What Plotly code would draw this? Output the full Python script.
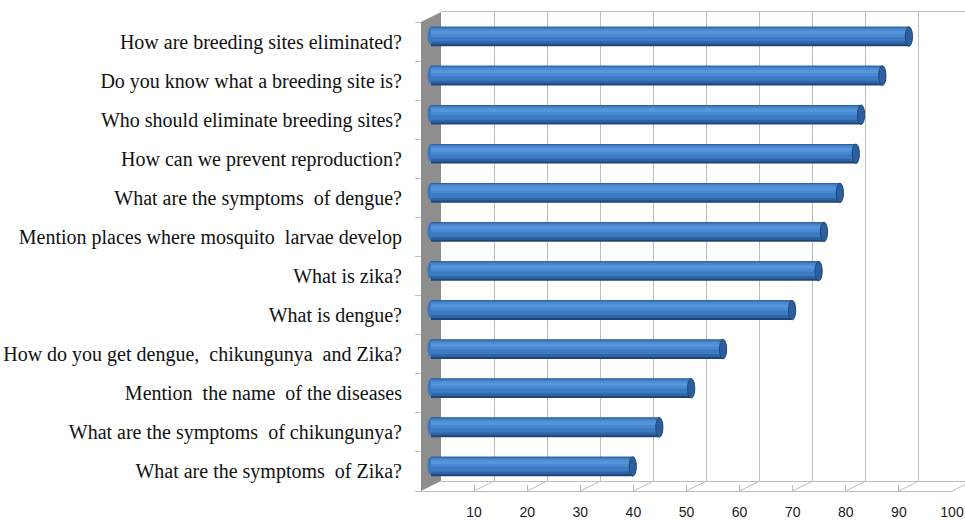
import plotly.graph_objects as go

# ---- data -------------------------------------------------------------
questions = [
    "How are breeding sites eliminated?",
    "Do you know what a breeding site is?",
    "Who should eliminate breeding sites?",
    "How can we prevent reproduction?",
    "What are the symptoms  of dengue?",
    "Mention places where mosquito  larvae develop",
    "What is zika?",
    "What is dengue?",
    "How do you get dengue,  chikungunya  and Zika?",
    "Mention  the name  of the diseases",
    "What are the symptoms  of chikungunya?",
    "What are the symptoms  of Zika?",
]
percent_correct = [90, 85, 81, 80, 77, 74, 73, 68, 55, 49, 43, 38]
tick_values = [10, 20, 30, 40, 50, 60, 70, 80, 90, 100]
tick_labels = [str(v) for v in tick_values]

# ---- pseudo-3D frame geometry (pixels) --------------------------------
W, H = 965, 520
PXU = 5.31              # pixels per value unit
FRONT_X0 = 421          # value 0 at the front edge of the floor
FRONT_TOP, FRONT_BOT = 22, 491
DX, DY = 20, 10         # depth offset front -> back wall
GRID = "#bdbdbd"

def px(x):
    return x / W

def py(y):
    return 1 - y / H

n = len(questions)
labels_display = [q.replace("  ", " \u00a0") for q in questions]

fig = go.Figure()

# subplot 1: back wall with vertical gridlines
back_x0 = FRONT_X0 + DX
fig.add_trace(go.Scatter(x=[None], y=[None], xaxis="x", yaxis="y",
                         showlegend=False, hoverinfo="skip"))
# subplot 2: front edge carrying the tick labels
fig.add_trace(go.Scatter(x=[None], y=[None], xaxis="x2", yaxis="y2",
                         showlegend=False, hoverinfo="skip"))

# subplot 3: cylinders at mid depth, shaded with stacked bands
mid_x0 = FRONT_X0 + DX / 2
bar_w = 0.5
bands = [
    (0.00, 1.00, "#1f4677"),
    (0.00, 0.90, "#2e63a5"),
    (0.05, 0.76, "#3c7bc4"),
    (0.10, 0.52, "#4889d1"),
    (0.20, 0.38, "#5695d9"),
]
for a, b, col in bands:
    fig.add_trace(go.Bar(
        x=percent_correct, y=questions, orientation="h",
        xaxis="x3", yaxis="y3",
        width=bar_w * (b - a), offset=-bar_w / 2 + bar_w * a,
        marker=dict(color=col, line=dict(width=0)),
        showlegend=False, hoverinfo="skip",
    ))

layout_shapes = []

# grey left side wall
layout_shapes.append(dict(
    type="path", xref="paper", yref="paper", layer="below",
    path=(f"M {px(FRONT_X0)} {py(FRONT_TOP)} L {px(back_x0)} {py(FRONT_TOP - DY)} "
          f"L {px(back_x0)} {py(FRONT_BOT - DY)} L {px(FRONT_X0)} {py(FRONT_BOT)} Z"),
    fillcolor="#8e8e8e", line=dict(width=0),
))

# floor: diagonal lines from each front tick to the back wall
for t in tick_values:
    fx = FRONT_X0 + PXU * t
    layout_shapes.append(dict(
        type="line", xref="paper", yref="paper", layer="below",
        x0=px(fx), y0=py(FRONT_BOT), x1=px(fx + DX), y1=py(FRONT_BOT - DY),
        line=dict(color=GRID, width=1),
    ))

# cylinder ends (left rounded end and right cap)
cap_half = 3.6 / PXU
for i, v in enumerate(percent_correct):
    layout_shapes.append(dict(
        type="circle", xref="x3", yref="y3", layer="below",
        x0=-cap_half, x1=cap_half, y0=i - bar_w / 2, y1=i + bar_w / 2 - 0.04,
        fillcolor="#3a78c0", line=dict(width=0),
    ))
    layout_shapes.append(dict(
        type="circle", xref="x3", yref="y3", layer="above",
        x0=v - cap_half, x1=v + cap_half, y0=i - bar_w / 2, y1=i + bar_w / 2,
        fillcolor="#2d5f9f", line=dict(color="#1f4677", width=1),
    ))

fig.update_layout(
    width=W, height=H,
    margin=dict(l=0, r=0, t=0, b=0, autoexpand=False),
    paper_bgcolor="white",
    plot_bgcolor="rgba(0,0,0,0)",
    barmode="overlay",
    showlegend=False,
    shapes=layout_shapes,
    # back wall
    xaxis=dict(
        domain=[px(back_x0), 1],
        range=[0, (W - back_x0) / PXU],
        tickvals=tick_values, showticklabels=False, ticks="",
        showgrid=True, gridcolor=GRID, gridwidth=1,
        showline=True, mirror=True, linecolor=GRID, linewidth=1,
        zeroline=False, anchor="y", fixedrange=True, automargin=False,
    ),
    yaxis=dict(
        domain=[py(FRONT_BOT - DY), py(FRONT_TOP - DY)],
        range=[0, 1], visible=False, anchor="x", fixedrange=True,
        automargin=False,
    ),
    # front edge with value labels
    xaxis2=dict(
        domain=[px(FRONT_X0 - 6), px(FRONT_X0 + PXU * 100)],
        range=[-6 / PXU, 100],
        tickvals=tick_values, ticktext=tick_labels,
        ticks="inside", ticklen=6, tickcolor=GRID, tickwidth=1,
        showline=True, linecolor=GRID, linewidth=1,
        showgrid=False, zeroline=False, anchor="y2",
        tickfont=dict(family="Liberation Sans, Arial", size=14, color="#1a1a1a"),
        ticklabelstandoff=8, fixedrange=True, automargin=False,
    ),
    yaxis2=dict(
        domain=[py(FRONT_BOT), py(FRONT_TOP)],
        range=[n - 0.5, -0.5],
        tickvals=list(range(n)), ticktext=labels_display,
        ticks="", showgrid=False, zeroline=False, showline=False,
        minor=dict(tickvals=[k - 0.5 for k in range(n + 1)], ticks="outside",
                   ticklen=6, tickcolor=GRID, tickwidth=1, showgrid=False),
        anchor="free", position=px(FRONT_X0), side="left",
        tickfont=dict(family="Liberation Serif, Times New Roman", size=20, color="#111111"),
        ticklabelstandoff=19, fixedrange=True, automargin=False,
    ),
    # cylinders
    xaxis3=dict(
        domain=[0, 1],
        range=[-mid_x0 / PXU, (W - mid_x0) / PXU],
        visible=False, anchor="y3", fixedrange=True, automargin=False,
    ),
    yaxis3=dict(
        domain=[py(FRONT_BOT - DY / 2), py(FRONT_TOP - DY / 2)],
        type="category", categoryorder="array", categoryarray=questions,
        range=[n - 0.5, -0.5], visible=False, anchor="x3", fixedrange=True,
        automargin=False,
    ),
)

fig.write_html("out.html")
